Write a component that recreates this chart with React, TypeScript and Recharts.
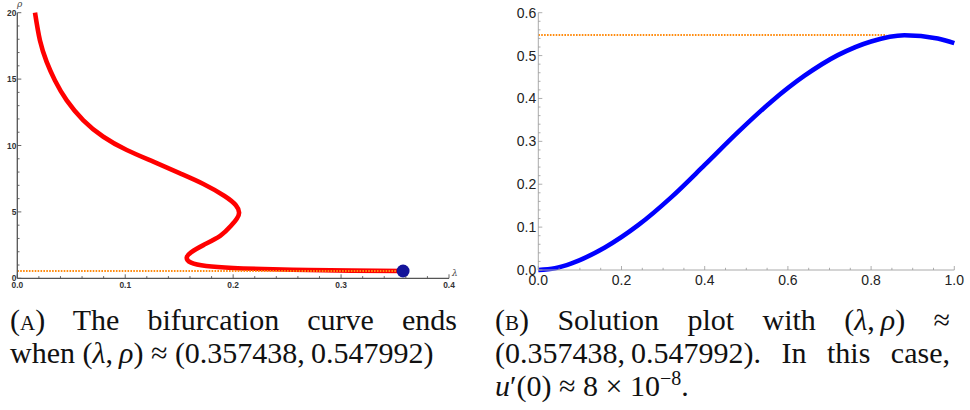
import React from 'react';
import { LineChart, Line, XAxis, YAxis, ReferenceDot } from 'recharts';

// ---- Data: panel A (bifurcation curve, lambda vs rho) ----
const bifLambda = [0.0164, 0.021, 0.0272, 0.0349, 0.0458, 0.0612, 0.0797, 0.1014, 0.126, 0.1508, 0.1724, 0.192, 0.2025, 0.2055, 0.2035, 0.198, 0.188, 0.1724, 0.161, 0.157, 0.161, 0.175, 0.2, 0.237, 0.27, 0.31, 0.357438];
const bifRho = [20.0, 17.9, 16.3, 14.9, 13.4, 11.9, 10.66, 9.66, 8.78, 7.9, 7.1, 6.2, 5.5, 4.95, 4.5, 3.95, 3.2, 2.5, 1.95, 1.55, 1.18, 0.93, 0.78, 0.68, 0.62, 0.58, 0.547992];
const endLambda = 0.357438;
const endRho = 0.547992;

// ---- Data: panel B (solution u(x)) ----
const solX = [0, 0.04, 0.08, 0.16, 0.24, 0.32, 0.4, 0.48, 0.56, 0.64, 0.72, 0.8, 0.88, 0.96, 1.0];
const solU = [0, 0.004, 0.0155, 0.0525, 0.1045, 0.17, 0.245, 0.3215, 0.3925, 0.453, 0.501, 0.533, 0.5475, 0.54, 0.529];
const levelEndX = 0.837;

// ---- Ticks ----
const aXTicks = [0, 0.02, 0.04, 0.06, 0.08, 0.1, 0.12, 0.14, 0.16, 0.18, 0.2, 0.22, 0.24, 0.26, 0.28, 0.3, 0.32, 0.34, 0.36, 0.38, 0.4];
const aXMajor = ['0.0', '0.1', '0.2', '0.3', '0.4'];
const aYTicks = [0, 1, 2, 3, 4, 5, 6, 7, 8, 9, 10, 11, 12, 13, 14, 15, 16, 17, 18, 19, 20];
const aYMajor = ['0', '5', '10', '15', '20'];
const bXTicks = [0, 0.05, 0.1, 0.15, 0.2, 0.25, 0.3, 0.35, 0.4, 0.45, 0.5, 0.55, 0.6, 0.65, 0.7, 0.75, 0.8, 0.85, 0.9, 0.95, 1.0];
const bXMajor = ['0.0', '0.2', '0.4', '0.6', '0.8', '1.0'];
const bYTicks = [0, 0.02, 0.04, 0.06, 0.08, 0.1, 0.12, 0.14, 0.16, 0.18, 0.2, 0.22, 0.24, 0.26, 0.28, 0.3, 0.32, 0.34, 0.36, 0.38, 0.4, 0.42, 0.44, 0.46, 0.48, 0.5, 0.52, 0.54, 0.56, 0.58, 0.6];
const bYMajor = ['0.0', '0.1', '0.2', '0.3', '0.4', '0.5', '0.6'];

const bifData = bifLambda.map((x, i) => ({ x, y: bifRho[i] }));
const bifLevel = [{ x: 0, y: endRho }, { x: endLambda, y: endRho }];
const solData = solX.map((x, i) => ({ x, y: solU[i] }));
const solLevel = [{ x: 0, y: endRho }, { x: levelEndX, y: endRho }];

const majorLabel = (v: number, majors: string[]) => {
  const m = majors.find((s) => Math.abs(parseFloat(s) - v) < 1e-6);
  return m ?? null;
};

const ORANGE = '#ff8c10';

const AXTick = (props: any) => {
  const { x, y, payload } = props;
  const lab = majorLabel(payload.value, aXMajor);
  return (
    <g>
      <line x1={x} x2={x} y1={y} y2={y - (lab ? 4 : 2.2)} stroke="#555" strokeWidth={0.9} />
      {lab && (
        <text x={x} y={y + 9.5} textAnchor="middle" fontFamily="Liberation Sans" fontWeight="bold" fontSize={8.4} fill="#333">{lab}</text>
      )}
    </g>
  );
};

const AYTick = (props: any) => {
  const { x, y, payload } = props;
  const lab = majorLabel(payload.value, aYMajor);
  return (
    <g>
      <line x1={x} x2={x + (lab ? 4 : 2.2)} y1={y} y2={y} stroke="#555" strokeWidth={0.9} />
      {lab && (
        <text x={x - 1} y={y + 3} textAnchor="end" fontFamily="Liberation Sans" fontWeight="bold" fontSize={8.4} fill="#333">{lab}</text>
      )}
    </g>
  );
};

const BXTick = (props: any) => {
  const { x, y, payload } = props;
  const lab = majorLabel(payload.value, bXMajor);
  return (
    <g>
      <line x1={x} x2={x} y1={y} y2={y - (lab ? 4 : 2.2)} stroke="#999" strokeWidth={0.8} />
      {lab && (
        <text x={x} y={y + 15} textAnchor="middle" fontFamily="Liberation Sans" fontSize={14} fill="#222">{lab}</text>
      )}
    </g>
  );
};

const BYTick = (props: any) => {
  const { x, y, payload } = props;
  const lab = majorLabel(payload.value, bYMajor);
  return (
    <g>
      <line x1={x} x2={x + (lab ? 4 : 2.2)} y1={y} y2={y} stroke="#999" strokeWidth={0.8} />
      {lab && (
        <text x={x - 2} y={y + 5} textAnchor="end" fontFamily="Liberation Sans" fontSize={14} fill="#222">{lab}</text>
      )}
    </g>
  );
};

const capStyle: React.CSSProperties = {
  fontFamily: '"Liberation Serif", "DejaVu Serif", serif',
  fontSize: 30,
  lineHeight: '33px',
  color: '#111',
  whiteSpace: 'nowrap',
};
const justLine: React.CSSProperties = { textAlign: 'justify', textAlignLast: 'justify' as any, whiteSpace: 'normal' };
const nw: React.CSSProperties = { whiteSpace: 'nowrap' };

export default function App() {
  return (
    <div style={{ position: 'absolute', left: 0, top: 0, width: 970, height: 410, background: '#fff', overflow: 'hidden' }}>
      {/* Panel A */}
      <div style={{ position: 'absolute', left: 0, top: 0 }}>
        <LineChart width={470} height={300} margin={{ top: 12.7, right: 21, bottom: 0, left: 0 }}>
          <XAxis
            dataKey="x"
            type="number"
            domain={[0, 0.4]}
            ticks={aXTicks}
            interval={0}
            tick={<AXTick />}
            tickLine={false}
            tickSize={0}
            tickMargin={0}
            height={21.7}
            axisLine={{ stroke: '#555', strokeWidth: 1.3 }}
          />
          <YAxis
            dataKey="y"
            type="number"
            domain={[0, 20]}
            ticks={aYTicks}
            interval={0}
            tick={<AYTick />}
            tickLine={false}
            tickSize={0}
            tickMargin={0}
            width={17.3}
            axisLine={{ stroke: '#555', strokeWidth: 1.3 }}
          />
          <Line data={bifData} dataKey="y" type="natural" stroke="#ff0000" strokeWidth={4.6} dot={false} isAnimationActive={false} />
          <Line data={bifLevel} dataKey="y" type="linear" stroke={ORANGE} strokeWidth={2} strokeDasharray="1.6 1.3" dot={false} isAnimationActive={false} />
          <ReferenceDot x={endLambda} y={endRho} r={6.5} fill="#14149a" stroke="none" />
        </LineChart>
      </div>
      <div style={{ position: 'absolute', left: 17, top: -1, fontFamily: '"DejaVu Serif", serif', fontStyle: 'italic', fontSize: 9, color: '#444' }}>ρ</div>
      <div style={{ position: 'absolute', left: 452, top: 268, fontFamily: '"DejaVu Serif", serif', fontStyle: 'italic', fontSize: 9, color: '#444' }}>λ</div>

      {/* Panel B */}
      <div style={{ position: 'absolute', left: 490, top: 0 }}>
        <LineChart width={480} height={290} margin={{ top: 12.7, right: 15.7, bottom: 0, left: 0 }}>
          <XAxis
            dataKey="x"
            type="number"
            domain={[0, 1]}
            ticks={bXTicks}
            interval={0}
            tick={<BXTick />}
            tickLine={false}
            tickSize={0}
            tickMargin={0}
            height={20}
            axisLine={{ stroke: '#aaa', strokeWidth: 1 }}
          />
          <YAxis
            dataKey="y"
            type="number"
            domain={[0, 0.6]}
            ticks={bYTicks}
            interval={0}
            tick={<BYTick />}
            tickLine={false}
            tickSize={0}
            tickMargin={0}
            width={48.3}
            axisLine={{ stroke: '#aaa', strokeWidth: 1 }}
          />
          <Line data={solLevel} dataKey="y" type="linear" stroke={ORANGE} strokeWidth={2} strokeDasharray="1.6 1.3" dot={false} isAnimationActive={false} />
          <Line data={solData} dataKey="y" type="monotone" stroke="#0000ff" strokeWidth={4.6} dot={false} isAnimationActive={false} />
        </LineChart>
      </div>

      {/* Captions */}
      <div style={{ ...capStyle, position: 'absolute', left: 10, top: 303, width: 447 }}>
        <div style={justLine}>(<span style={{ fontVariant: 'small-caps' }}>a</span>) The bifurcation curve ends</div>
        <div>when <span style={nw}>(<i>λ</i>,{'\u2009'}<i>ρ</i>)</span> ≈ <span style={nw}>(0.357438,{'\u2009'}0.547992)</span></div>
      </div>
      <div style={{ ...capStyle, position: 'absolute', left: 495, top: 303, width: 455 }}>
        <div style={justLine}>(<span style={{ fontVariant: 'small-caps' }}>b</span>) Solution plot with <span style={nw}>(<i>λ</i>,{'\u2009'}<i>ρ</i>)</span> ≈</div>
        <div style={justLine}><span style={nw}>(0.357438,{'\u2009'}0.547992).</span> In this case,</div>
        <div><i>u</i>′(0) ≈ 8 × 10<sup style={{ fontSize: 20, lineHeight: 0 }}>−8</sup>.</div>
      </div>
    </div>
  );
}
